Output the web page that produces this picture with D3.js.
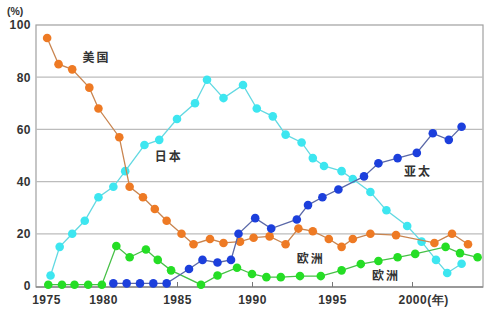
<!DOCTYPE html>
<html>
<head>
<meta charset="utf-8">
<script src="https://cdn.jsdelivr.net/npm/d3@7"></script>
<style>
    body { margin: 0; background: #fff; }
    svg text { font-family: "Liberation Sans", Arial, sans-serif; }
    .series-label { font-family: "Noto Sans CJK SC", sans-serif; font-size: 12px; font-weight: bold; fill: #333; }
</style>
</head>
<body>
<svg id="chart" width="500" height="309"></svg>
<script>
'use strict';

// year positions are read off the picture, so some are not whole years
let usYears = [1975.1, 1976.1, 1977.3, 1978.8, 1979.6, 1981.1, 1981.8, 1982.7, 1983.5, 1984.3, 1985.3, 1986.1, 1987.2, 1988.1, 1989.2, 1990.1, 1991.1, 1992.1, 1992.9, 1993.8, 1994.8, 1995.6, 1996.3, 1997.4, 1999.0, 2001.4, 2002.5, 2003.5]
let usShare = [95, 85, 83, 76, 68, 57, 38, 34, 29.5, 25, 20, 16, 18, 16.5, 17, 18.5, 19, 16, 22, 21, 18, 15, 18, 20, 19.5, 16.5, 20, 16]

let japanYears = [1975.4, 1976.2, 1977.3, 1978.4, 1979.6, 1980.7, 1981.5, 1982.8, 1983.8, 1985.0, 1986.2, 1987.0, 1988.1, 1989.4, 1990.3, 1991.3, 1992.1, 1993.1, 1993.8, 1994.5, 1995.6, 1996.3, 1997.4, 1998.4, 1999.7, 2000.6, 2001.5, 2002.2, 2003.1]
let japanShare = [4, 15, 20, 25, 34, 38, 44, 54, 56, 64, 70, 79, 72, 77, 68, 65, 58, 55, 49, 46, 44, 41, 36, 29, 23, 17, 10, 5, 8.5]

let asiaYears = [1980.7, 1981.6, 1982.5, 1983.4, 1984.3, 1985.8, 1986.7, 1987.7, 1988.6, 1989.1, 1990.2, 1991.2, 1992.8, 1993.5, 1994.4, 1995.4, 1997.0, 1997.9, 1999.1, 2000.3, 2001.3, 2002.3, 2003.1]
let asiaShare = [1, 1, 1, 1, 1, 6.5, 10, 9, 10, 20, 26, 22, 25.5, 31, 34, 37, 42, 47, 49, 51, 58.5, 56, 61]

let europeYears = [1975.2, 1976.4, 1977.5, 1978.7, 1979.9, 1980.9, 1981.8, 1982.9, 1983.7, 1984.6, 1986.6, 1987.7, 1989.0, 1990.0, 1990.9, 1991.8, 1993.0, 1994.3, 1995.6, 1996.8, 1997.9, 1999.1, 2000.2, 2002.1, 2003.0, 2004.1]
let europeShare = [0.5, 0.5, 0.5, 0.5, 0.5, 15.3, 11, 14, 10, 6, 0.5, 4, 7, 4.6, 3.4, 3.4, 3.8, 3.8, 6, 8.4, 9.6, 11, 12.3, 15, 12.6, 11]

let xTicks = [1975, 1980, 1985, 1990, 1995, 2000]
let yTicks = [0, 20, 40, 60, 80, 100]

let seriesLabels = [
    { text: '美国', year: 1978.2, value: 87.5 },
    { text: '日本', year: 1983.5, value: 49.5 },
    { text: '亚太', year: 1999.5, value: 43.7 },
    { text: '欧洲', year: 1992.8, value: 10.3 },
    { text: '欧洲', year: 1997.5, value: 3.8 }
]

let series = [
    { years: japanYears, values: japanShare, dot: '#3de6f0', line: '#62d9e2' },
    { years: usYears, values: usShare, dot: '#ee7a24', line: '#c98550' },
    { years: europeYears, values: europeShare, dot: '#25de25', line: '#46c046' },
    { years: asiaYears, values: asiaShare, dot: '#1c3fdc', line: '#5a68a8' }
]

let svg = d3.select('#chart')

let frame = { left: 36, right: 483, top: 25, bottom: 287 }

// the printed axis is not evenly spaced, so map each labelled year on its own
let x = d3.scaleLinear()
    .domain(xTicks)
    .range([46, 103, 177, 252, 332, 412])

let y = d3.scaleLinear()
    .domain([0, 100])
    .range([286, 25])

svg.append('rect')
    .attr('x', frame.left)
    .attr('y', frame.top)
    .attr('width', frame.right - frame.left)
    .attr('height', frame.bottom - frame.top)
    .attr('fill', 'none')
    .attr('stroke', '#a0a0a0')
    .attr('stroke-width', 1.2)

svg.append('g')
    .selectAll('line')
    .data(yTicks.filter(function(d) { return d > 0 && d < 100 }))
    .enter().append('line')
    .attr('x1', frame.left)
    .attr('x2', frame.right)
    .attr('y1', function(d) { return y(d) })
    .attr('y2', function(d) { return y(d) })
    .attr('stroke', '#bcbcbc')
    .attr('stroke-width', 1.2)

svg.append('line')
    .attr('x1', frame.left)
    .attr('x2', frame.right)
    .attr('y1', frame.bottom)
    .attr('y2', frame.bottom)
    .attr('stroke', '#8a8a8a')
    .attr('stroke-width', 1.6)

let xAxis = svg.append('g')
    .attr('transform', 'translate(0,' + frame.bottom + ')')
    .call(d3.axisBottom(x)
        .tickValues(xTicks)
        .tickSizeInner(-5)
        .tickSizeOuter(0)
        .tickPadding(8)
        .tickFormat(d3.format('d')))

xAxis.select('.domain').remove()
xAxis.selectAll('.tick line').attr('stroke', '#777')
xAxis.selectAll('.tick text')
    .attr('font-size', 12)
    .attr('font-weight', 'bold')
    .attr('fill', '#333')
    .style('letter-spacing', '0.5px')

xAxis.selectAll('.tick')
    .filter(function(d) { return d === 2000 })
    .select('text')
    .attr('text-anchor', 'start')
    .attr('x', -14)
    .text('2000(年)')

let yAxis = svg.append('g')
    .attr('transform', 'translate(' + frame.left + ',0)')
    .call(d3.axisLeft(y)
        .tickValues(yTicks)
        .tickSize(0)
        .tickPadding(5))

yAxis.select('.domain').remove()
yAxis.selectAll('.tick text')
    .attr('font-size', 12)
    .attr('font-weight', 'bold')
    .attr('fill', '#333')
    .style('letter-spacing', '0.5px')

svg.append('text')
    .attr('x', 7)
    .attr('y', 15)
    .attr('font-size', 10.5)
    .attr('font-weight', 'bold')
    .attr('fill', '#333')
    .text('(%)')

let line = d3.line()
    .x(function(d) { return x(d[0]) })
    .y(function(d) { return y(d[1]) })

series.forEach(function(s) {
    let points = d3.zip(s.years, s.values)
    let g = svg.append('g')

    g.append('path')
        .datum(points)
        .attr('d', line)
        .attr('fill', 'none')
        .attr('stroke', s.line)
        .attr('stroke-width', 1.3)

    g.selectAll('circle')
        .data(points)
        .enter().append('circle')
        .attr('cx', function(d) { return x(d[0]) })
        .attr('cy', function(d) { return y(d[1]) })
        .attr('r', 4.3)
        .attr('fill', s.dot)
})

svg.append('g')
    .selectAll('text')
    .data(seriesLabels)
    .enter().append('text')
    .attr('class', 'series-label')
    .attr('x', function(d) { return x(d.year) })
    .attr('y', function(d) { return y(d.value) })
    .attr('dy', '0.35em')
    .style('letter-spacing', '2px')
    .text(function(d) { return d.text })
</script>
</body>
</html>
